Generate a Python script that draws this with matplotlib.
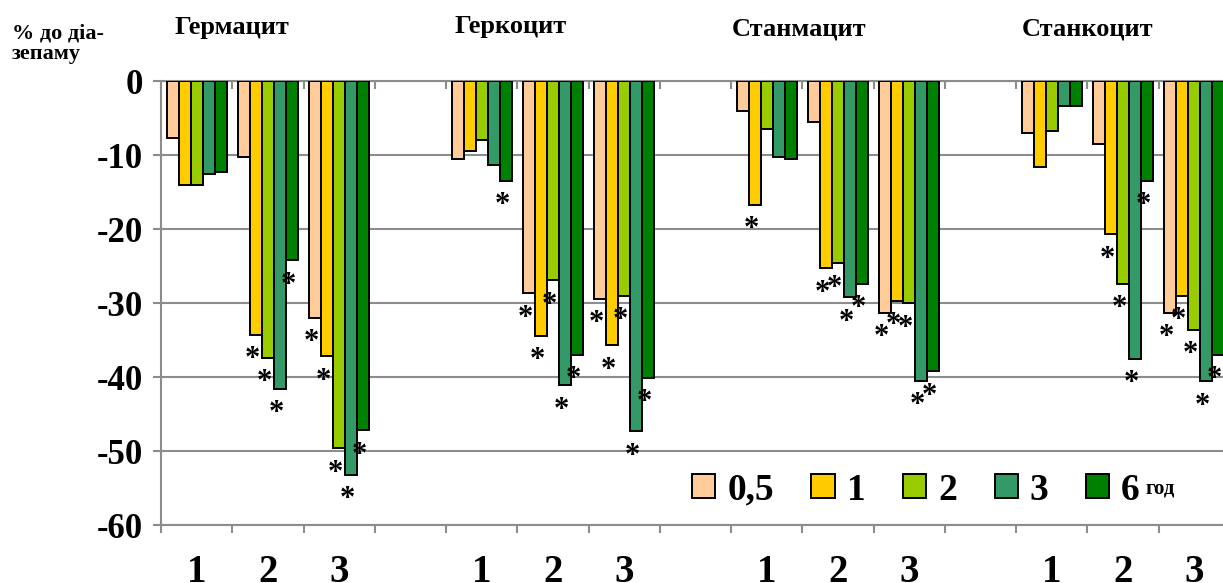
import numpy as np
import matplotlib
matplotlib.use('Agg')
import matplotlib.pyplot as plt
from matplotlib.transforms import blended_transform_factory

plt.rcParams['font.family'] = ['Liberation Serif', 'DejaVu Serif']
plt.rcParams['font.weight'] = 'bold'

# data
groups = ['Гермацит', 'Геркоцит', 'Станмацит', 'Станкоцит']
doses = ['1', '2', '3']
times = ['0,5', '1', '2', '3', '6']

# values per time point, 12 categories (group by group, doses 1-3)
v_05 = [-7.7, -10.3, -32.0, -10.6, -28.7, -29.4, -4.1, -5.6, -31.3, -7.0, -8.5, -31.3]
v_1 = [-14.1, -34.3, -37.2, -9.5, -34.4, -35.7, -16.7, -25.3, -29.7, -11.6, -20.7, -29.0]
v_2 = [-14.1, -37.4, -49.6, -8.0, -26.9, -29.0, -6.5, -24.6, -30.0, -6.7, -27.4, -33.6]
v_3 = [-12.6, -41.6, -53.2, -11.3, -41.1, -47.3, -10.3, -29.2, -40.5, -3.4, -37.5, -40.6]
v_6 = [-12.3, -24.2, -47.2, -13.5, -37.0, -40.1, -10.6, -27.4, -39.2, -3.4, -13.5, -37.0]

# significance marks (*)
s_05 = [0, 0, 1, 0, 1, 1, 0, 0, 1, 0, 0, 1]
s_1 = [0, 1, 1, 0, 1, 1, 1, 1, 1, 0, 1, 1]
s_2 = [0, 1, 1, 0, 1, 1, 0, 1, 1, 0, 1, 1]
s_3 = [0, 1, 1, 0, 1, 1, 0, 1, 1, 0, 1, 1]
s_6 = [0, 1, 1, 1, 1, 1, 0, 1, 1, 0, 1, 1]

yticks = [0, -10, -20, -30, -40, -50, -60]
ytick_labels = ['0', '-10', '-20', '-30', '-40', '-50', '-60']

values = [v_05, v_1, v_2, v_3, v_6]
stars = [s_05, s_1, s_2, s_3, s_6]
colors = ['#FFCC99', '#FFCC00', '#99CC00', '#339966', '#008000']

W, H = 1223, 583
fig = plt.figure(figsize=(W / 100, H / 100), dpi=100)
ax = fig.add_axes([161 / W, 58 / H, 1069 / W, 444 / H])

n_cat = len(groups) * (len(doses) + 1) - 1
ax.set_xlim(0, n_cat)
ax.set_ylim(-60, 0)

# category positions (one empty slot between groups)
cat_x = np.array([g * (len(doses) + 1) + d + 0.5
                  for g in range(len(groups)) for d in range(len(doses))])

bw = 0.168
bars = []
for i, (vals, col) in enumerate(zip(values, colors)):
    xs = cat_x + (i - 2) * bw
    b = ax.bar(xs, vals, width=bw, color=col, edgecolor='black',
               linewidth=1.4, zorder=3)
    bars.append(b)
    for x, v, s in zip(xs, vals, stars[i]):
        if s:
            ax.text(x - 0.05, v - 4.4, '*', fontsize=22, fontweight='bold',
                    ha='center', va='baseline', zorder=4)

# grid and axes
grid_c = '#8C8C8C'
ax.set_yticks(yticks)
ax.set_yticklabels(ytick_labels, fontsize=25, fontweight='bold')
ax.yaxis.grid(True, color=grid_c, linewidth=1.5, zorder=0)
ax.tick_params(axis='y', length=6, width=1.5, color=grid_c, pad=7)

ax.set_xticks(np.arange(0, n_cat + 1))
ax.set_xticklabels([])
ax.set_xticks(cat_x, minor=True)
ax.set_xticklabels(doses * len(groups), minor=True, fontsize=28,
                   fontweight='bold')
ax.tick_params(axis='x', which='major', length=6, width=1.5, color=grid_c)
ax.tick_params(axis='x', which='minor', length=0, pad=21)

for side in ['left', 'top', 'bottom']:
    ax.spines[side].set_color(grid_c)
    ax.spines[side].set_linewidth(1.5)
ax.spines['right'].set_visible(False)

top = ax.secondary_xaxis('top')
top.set_xticks(np.arange(0, n_cat + 1))
top.set_xticklabels([])
top.tick_params(direction='in', length=6, width=1.5, color=grid_c)
top.spines['top'].set_visible(False)

# group titles
tr = blended_transform_factory(ax.transData, fig.transFigure)
title_dx = [1.0, 0.9, 0.95, 1.0]
title_y = [34, 33, 36, 36]
for g, name in enumerate(groups):
    ax.text(g * (len(doses) + 1) + title_dx[g], 1 - title_y[g] / H, name,
            transform=tr, fontsize=19, fontweight='bold',
            ha='center', va='baseline')

fig.text(12 / W, 1 - 59 / H, '% до діа-\nзепаму', fontsize=16,
         fontweight='bold', ha='left', va='baseline', linespacing=1.0)

leg = ax.legend(bars, times, ncol=5, frameon=False, loc='center',
                bbox_to_anchor=(916 / W, 1 - 490 / H),
                bbox_transform=fig.transFigure,
                prop={'size': 27, 'weight': 'bold'},
                handlelength=0.62, handleheight=0.62, handletextpad=0.32,
                columnspacing=1.0, borderaxespad=0)

fig.canvas.draw()
bb = leg.get_texts()[-1].get_window_extent()
fig.text((bb.x1 + 5) / W, (bb.y1 - 6) / H, 'год', fontsize=15,
         fontweight='bold', ha='left', va='top')

fig.savefig('out.png', dpi=100, facecolor='white')
